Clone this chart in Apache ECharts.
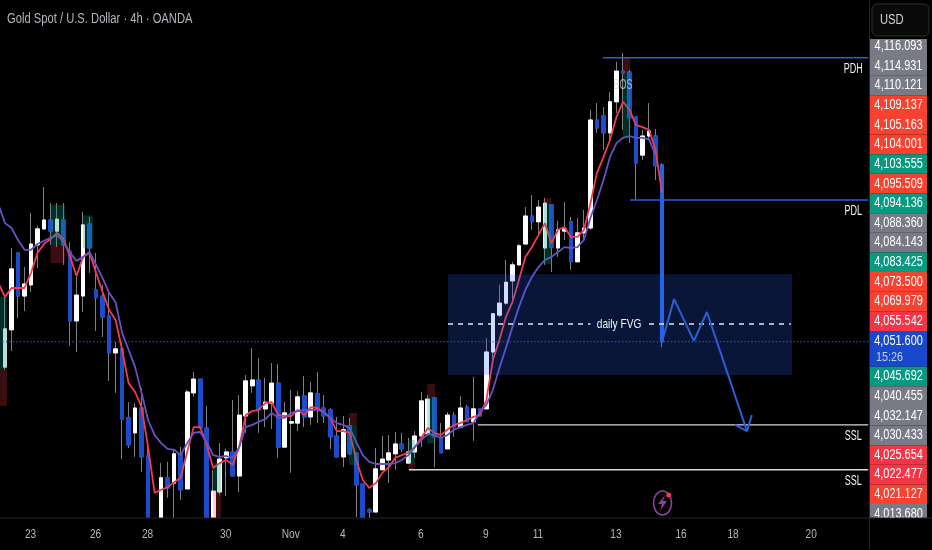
<!DOCTYPE html>
<html><head><meta charset="utf-8">
<style>html,body{margin:0;padding:0;background:#000}#c{width:932px;height:550px}</style>
<script src="https://cdn.jsdelivr.net/npm/echarts@6/dist/echarts.min.js"></script>
</head><body><div id="c"></div>
<script>
// [open, close, low, high] for each 4h bar
const candles = [
[4045.9,4054.5,4045.3,4061.7],[4054.3,4068,4049.5,4072.7],[4071.6,4061.9,4056.9,4071.6],[4061.9,4064.6,4058.5,4068.4],
[4064.4,4073.6,4062.8,4080.6],[4073.4,4077,4068.2,4077.7],[4077,4079,4076.8,4086.4],[4079,4076.5,4073.4,4082.8],
[4076.5,4079.2,4072.9,4082.8],[4079,4073.4,4068.9,4082.8],[4072,4056.3,4050.7,4074],[4056.3,4062.1,4049.3,4066.2],
[4061.9,4077.9,4058.3,4080.8],[4078.1,4072.7,4067.1,4079.7],[4063.3,4061.5,4054,4071.6],[4061.9,4057.2,4052.7,4064.4],
[4057.4,4049.1,4042.8,4063],[4049.1,4050,4040.1,4051.6],[4050,4034.2,4025.2,4051.3],[4034.5,4028.4,4027.7,4038],
[4031.1,4036.7,4025.7,4037.8],[4036.7,4025.7,4022.3,4041.2],[4025.9,4009.3,4008.1,4027.9],[4007,4010,4005,4011],
[4011.5,4021,4010.4,4024.3],[4021,4018.7,4016.5,4024.6],[4019.8,4026.4,4010.4,4027.5],[4026.4,4018.3,4016,4027.9],
[4018.5,4040.3,4018.5,4040.8],[4040.1,4043.2,4039.2,4044.8],[4043.2,4032.2,4032.2,4043.2],[4032.2,4010.4,4009.3,4037.2],
[4011.5,4018,4011,4022.8],[4017.8,4025.2,4017.1,4028.8],[4025.5,4026.8,4016.9,4027.5],[4026.8,4021.4,4021.4,4038.5],
[4021.4,4035.1,4017.8,4039.6],[4034.9,4042.8,4031.1,4044.1],[4041.7,4043,4040.1,4050.2],[4043,4036.3,4031.1,4047.9],
[4036.5,4038,4032.4,4043.5],[4037.8,4042.3,4032,4046.8],[4042.3,4027.9,4025.5,4046.6],[4027.9,4035.6,4027.9,4038],
[4033.3,4033.6,4022.1,4040.8],[4033.3,4039.2,4031.5,4040.5],[4039.4,4034.7,4032.4,4043.9],[4034.7,4040.1,4032.9,4042.6],
[4039.9,4036.7,4033.3,4044.8],[4036.7,4034.9,4033.3,4039.6],[4036.3,4030.2,4027.5,4036.7],[4030.4,4025.7,4025.7,4034.7],
[4025.7,4031.8,4023.4,4034.9],[4032.7,4026.4,4026.1,4034.5],[4026.6,4019.4,4012.2,4026.6],[4019.6,4010.4,4009.3,4019.6],
[4013.8,4013.3,4010.4,4014.2],[4013.3,4023,4013.3,4027.7],[4022.8,4025.2,4022.8,4030.4],[4025,4026.6,4019.8,4030.6],
[4026.4,4028.6,4022.8,4031.3],[4028.6,4027.5,4026.8,4031.1],[4024.3,4026.8,4024.1,4030],[4026.8,4030.4,4025.5,4031.5],
[4030.4,4038.3,4027.9,4040.3],[4030.9,4038.7,4030.4,4039.6],[4039,4030.2,4023.4,4039],[4030,4026.6,4026.6,4033.3],
[4027.5,4035.1,4027.5,4035.8],[4035.1,4032.4,4030.2,4035.8],[4032.4,4036.7,4032.4,4039.4],[4036.9,4033.6,4033.6,4037.4],
[4033.6,4036.5,4029.3,4043.7],[4036.5,4034.9,4034.9,4036.5],[4036.5,4049.3,4036.5,4052.4],[4049.3,4057.9,4047.5,4058.1],
[4057.6,4060.3,4057.2,4064.4],[4060.3,4065,4059.9,4070],[4065.3,4068.9,4060.3,4069.6],[4068.9,4073.2,4068.9,4073.6],
[4073.6,4079.9,4073.4,4081.9],[4079.9,4078.6,4076.8,4084.6],[4078.6,4081.9,4075.6,4083.5],[4072.7,4082.8,4068.9,4084],
[4082.4,4072.9,4067.3,4082.4],[4072.7,4076.8,4070.7,4078.8],[4076.5,4077,4074.5,4083],[4078.6,4069.6,4067.8,4079.7],
[4069.6,4076.1,4069.6,4079.5],[4076.1,4077.2,4074.5,4081.3],[4077.2,4101.5,4076.8,4103.8],[4101.5,4099.7,4098.6,4105.3],
[4102.4,4098.6,4094.8,4104.4],[4098.6,4105.6,4096.3,4107.8],[4105.6,4112.5,4103.1,4114.6],[4112.5,4112.1,4099.3,4116.6],
[4112.3,4102,4096.3,4112.8],[4102.2,4091.8,4083.5,4102.2],[4093.6,4097.9,4092.5,4099.3],[4097.9,4099,4097,4105.3],
[4097.9,4091.2,4088,4099.5],[4091.4,4051.6,4050.4,4091.8]
];
// moving averages; first value belongs to the bar just off the left edge
const fastMA = [4064.8,
4061.7,4063.7,4063.7,4063.7,4067.1,4071.6,4073.6,4074.7,4076.1,4074.7,4070.7,4066.4,4070.7,4071.6,4067.1,4062.8,4058.8,4056.5,4049.8,4042.3,
4040.3,4036.9,4027.9,4017.6,4018.3,4018.9,4020,4021,4026.8,4032.4,4032.4,4028.4,4023.2,4024.3,4025,4023.9,4027.9,4035.1,4036,4036.3,
4037.8,4038,4035.1,4034.9,4034.9,4036.3,4035.1,4036.9,4036.7,4035.8,4034.5,4031.5,4031.5,4031.1,4025,4020.5,4018.7,4019.8,4022.1,4023.4,
4025.5,4026.1,4026.6,4027.9,4030,4032.2,4031.1,4030.6,4031.8,4032.9,4033.3,4034,4034.7,4035.1,4038.5,4047.5,4052,4057.2,4060.5,4065.5,
4070.7,4072.9,4075.6,4078.3,4073.8,4076.8,4077.4,4075.2,4075.2,4076.8,4082.8,4089.6,4093.2,4097,4102.2,4105.6,4103.8,4100.4,4099.9,4099.3,4094.8,4085.1];
const slowMA = [4082.4,
4078.3,4077.2,4074.5,4072.3,4072.3,4073.6,4074.3,4075,4075.6,4074,4071.6,4069.8,4070.7,4071.8,4068.9,4065.9,4062.6,4060.5,4053.6,4049.8,
4045.9,4040.1,4034,4030.6,4028.8,4027.5,4027.3,4026.1,4028.8,4031.1,4031.3,4029,4026.1,4025.7,4025.9,4025.5,4027.9,4032.4,4032.9,4033.6,
4034.2,4035.6,4034.5,4034.5,4035.6,4036,4036.3,4036.3,4036.3,4035.8,4034.5,4033.3,4032.9,4032.2,4029,4026.1,4024.6,4024.1,4024.1,4024.1,
4024.3,4025,4026.1,4027.9,4029.5,4030.9,4030.6,4030,4030.6,4031.8,4032.4,4032.9,4033.3,4035.8,4037.4,4040.8,4045.7,4050.2,4054.9,4059.4,
4063.3,4066.2,4068.4,4070,4070.7,4071.8,4072.9,4072.7,4072.9,4074.5,4079.5,4083.5,4088,4093.2,4096.3,4097.5,4097.9,4097.5,4097.5,4097.2,4093.6];

const dateSlots = [5,15,23,35,45,53,65,75,83,95,105,113,125];
const dateLabels = ['23','26','28','30','Nov','4','6','9','11','13','16','18','20'];
const slotCount = 135;

const currentPrice = 4051.6;
const priceMin = 4011.95, priceMax = 4128.5;

// [fromBar, toBar, price]
const levelsBlue = [[92.9,133.7,4115.5],[97.1,133.7,4083.5]];
const levelsWhite = [[73.7,133.7,4032.9],[63.1,133.7,4022.8]];
// [fromBar, toBar, priceTop, priceBottom]
const fvgZone = [[69.1,122,4066.8,4044.1]];
const fvgMid = [[69.1,4055.6],[91,4055.6],null,[100,4055.6],[121.8,4055.6]];
const greenBlocks = [[0,1.3,4061.7,4045.3],[8,10.2,4082.4,4073.4],[13,14.5,4080,4072.7],[33,34.2,4024.3,4017.8],
 [53.9,55.1,4032.7,4023.9],[63,64,4029.5,4024.1],[65.9,67.1,4039.2,4028.8],[83.8,85,4082.8,4069.1],[96,97.1,4112.1,4097.4]];
const redBlocks = [[0,1.3,4045.3,4037.2],[8,10.2,4073.4,4069.3],[33,34.2,4017.8,4012],[53.9,55.1,4035.6,4032.7],
 [63,64,4024.1,4022.8],[65.9,67.1,4042.1,4039.2],[83.8,85,4083.9,4082.8],[96,97.1,4115.5,4112.1]];
const pathZig = [[102,4051.6],[103.85,4061.2],[106.9,4051.8],[108.9,4058.3],[115.06,4031.5]];
const pathHead = [[113.2,4032.9],[115.06,4031.5],[115.8,4035.1]];
// [bar, price, text]
const notes = [[131.4,4113,'PDH'],[131.4,4081,'PDL'],[131.4,4030.4,'SSL'],[131.4,4020.3,'SSL'],[95.4,4055.6,'daily FVG'],[96,4109.4,'BOS']];

const scaleLabels = ['4,116.093','4,114.931','4,110.121','4,109.137','4,105.163','4,104.001','4,103.555','4,095.509','4,094.136','4,088.360','4,084.143','4,083.425','4,073.500','4,069.979','4,055.542','4,051.600','4,045.692','4,040.455','4,032.147','4,030.433','4,025.654','4,022.477','4,021.127','4,013.680'];
const scaleColors = ['#787b86','#787b86','#787b86','#f8412f','#f8412f','#f8412f','#089981','#f8412f','#089981','#787b86','#787b86','#089981','#f8412f','#f8412f','#f23645','#1848cc','#089981','#787b86','#787b86','#787b86','#f23645','#f23645','#f8412f','#787b86'];
const countdown = '15:26';

const FONT = '"Liberation Sans",sans-serif';
const BLUE = '#1b4ccc', BIG = '#2563e6', WICK = '#7f7f7f', LINE = '#2a5fd8';
const SQUISH = 0.8;

const rows = [];
let r = 0;
scaleLabels.forEach((t,i)=>{ const h = i===15 ? 1.82 : 1; rows.push([r,r+h,t,scaleColors[i],i===15?countdown:'']); r+=h; });

const cats = Array.from({length:slotCount},(_,i)=>{const k=dateSlots.indexOf(i);return k<0?'':dateLabels[k];});
const body = c=>[c[0],c[1],Math.min(c[0],c[1]),Math.max(c[0],c[1])];
const lastIdx = candles.length-1;
const wickData = ['-'].concat(candles);
const bodyData = ['-'].concat(candles.map((c,i)=> i===lastIdx
  ? {value:body(c),itemStyle:{color0:BIG,borderColor0:BIG}} : body(c)));

function squished(text,x,y,fill,font,sx,align){
  return {type:'text',x,y,scaleX:sx,style:{text,x:0,y:0,align:align||'center',verticalAlign:'middle',fill,font}};
}
function rectSeries(name,data,color,z){
  return {type:'custom',name,xAxisIndex:1,yAxisIndex:0,z,clip:true,silent:true,data,encode:{x:[0,1],y:[2,3]},
    renderItem:(p,api)=>{
      const a=api.coord([api.value(0),api.value(2)]),b=api.coord([api.value(1),api.value(3)]);
      return {type:'rect',shape:{x:a[0],y:a[1],width:b[0]-a[0],height:b[1]-a[1]},style:{fill:color}};
    }};
}
function levelSeries(name,data,color,w,z){
  return {type:'custom',name,xAxisIndex:1,yAxisIndex:0,z,clip:true,silent:true,data,encode:{x:[0,1],y:2},
    renderItem:(p,api)=>{
      const a=api.coord([api.value(0),api.value(2)]),b=api.coord([api.value(1),api.value(2)]);
      return {type:'line',shape:{x1:a[0],y1:a[1],x2:b[0],y2:b[1]},style:{stroke:color,lineWidth:w}};
    }};
}
function pathSeries(name,data,color,w,type,z){
  return {type:'line',name,xAxisIndex:1,yAxisIndex:0,z,symbol:'none',silent:true,connectNulls:false,
    data:data.map(d=>d||[null,null]),lineStyle:{color,width:w,type}};
}

const option = {
  backgroundColor:'#000',animation:false,
  grid:[{left:-4.75,top:0,width:878.2,height:518,outerBoundsMode:'none'},{left:870,top:39,width:57,height:479,outerBoundsMode:'none'}],
  xAxis:[
    {type:'category',gridIndex:0,data:cats,axisTick:{show:false},splitLine:{show:false},axisLine:{show:false},axisLabel:{show:false}},
    {type:'value',gridIndex:0,min:-0.5,max:134.5,show:false},
    {type:'value',gridIndex:1,min:0,max:1,show:false}
  ],
  yAxis:[
    {type:'value',gridIndex:0,min:priceMin,max:priceMax,show:false,splitLine:{show:false}},
    {type:'value',gridIndex:1,inverse:true,min:0.13,max:24.53,show:false,splitLine:{show:false}}
  ],
  series:[
    {type:'candlestick',name:'wicks',xAxisIndex:0,yAxisIndex:0,z:2,barWidth:4.2,clip:true,silent:true,data:wickData,
     itemStyle:{color:'#fff',color0:BLUE,borderColor:WICK,borderColor0:WICK,borderWidth:1}},
    {type:'candlestick',name:'bodies',xAxisIndex:0,yAxisIndex:0,z:3,barWidth:4.2,clip:true,silent:true,data:bodyData,
     itemStyle:{color:'#fff',color0:BLUE,borderColor:'#fff',borderColor0:BLUE,borderWidth:1}},
    {type:'line',name:'fast',xAxisIndex:0,yAxisIndex:0,z:4,symbol:'none',data:fastMA,lineStyle:{color:'#f23b50',width:1.8}},
    {type:'line',name:'slow',xAxisIndex:0,yAxisIndex:0,z:4,symbol:'none',data:slowMA,lineStyle:{color:'#6b4fc6',width:1.8}},
    rectSeries('green',greenBlocks,'rgba(8,153,129,0.3)',5),
    rectSeries('red',redBlocks,'rgba(242,54,69,0.24)',5),
    rectSeries('fvg',fvgZone,'rgba(41,98,255,0.22)',5),
    pathSeries('price',[[-0.5,currentPrice],[133.7,currentPrice]],'#2a5fe0',1,[1.5,2],6),
    pathSeries('mid',fvgMid,'#e5e7ee',1.3,[5,5],6),
    levelSeries('blueLevels',levelsBlue,LINE,1.4,6),
    levelSeries('whiteLevels',levelsWhite,'#d6d8dc',1.4,6),
    pathSeries('zig',pathZig,LINE,2,'solid',7),
    pathSeries('head',pathHead,LINE,2,'solid',7),
    {type:'custom',name:'notes',xAxisIndex:1,yAxisIndex:0,z:8,silent:true,data:notes,
     renderItem:(p,api)=>{
       const a=api.coord([api.value(0),api.value(1)]);
       const t=notes[p.dataIndex][2];
       if(t==='daily FVG') return squished(t,a[0],a[1],'#f0f1f4','13px '+FONT,0.78);
       return squished(t,a[0],a[1],t==='BOS'?'rgba(209,212,220,.75)':'#f2f2f2','14.5px '+FONT,0.62);
     }},
    {type:'custom',name:'dates',xAxisIndex:0,yAxisIndex:0,z:30,zlevel:1,silent:true,clip:false,
     data:dateSlots.map(s=>[s,priceMin]),
     renderItem:(p,api)=>{
       const a=api.coord([api.value(0),priceMin]);
       const t=dateLabels[p.dataIndex];
       return squished(t,a[0]-0.5,a[1]+16,'#b2b5be','13px '+FONT,0.78);
     }},
    {type:'custom',name:'scale',xAxisIndex:2,yAxisIndex:1,z:9,clip:true,silent:true,data:rows.map(x=>[x[0],x[1]]),
     encode:{y:[0,1]},
     renderItem:(p,api)=>{
       const row=rows[p.dataIndex];
       const a=api.coord([0,row[0]]),b=api.coord([1,row[1]]);
       const cx=(a[0]+b[0])/2, topCy=api.coord([0,row[0]+0.5])[1];
       const kids=[{type:'rect',shape:{x:a[0],y:a[1],width:b[0]-a[0],height:b[1]-a[1]},style:{fill:row[3]}},
         squished(row[2],cx,topCy,'#fff','14px '+FONT,0.78)];
       if(row[4]) kids.push(squished(row[4],a[0]+6,topCy+16.5,'#c4d1f5','13.5px '+FONT,SQUISH,'left'));
       return {type:'group',children:kids};
     }}
  ],
  graphic:[
    {type:'rect',shape:{x:0,y:518,width:869,height:32},style:{fill:'#000'},z:19},
    {type:'line',shape:{x1:0,y1:518,x2:932,y2:518},style:{stroke:'#262626',lineWidth:1},z:20},
    {type:'line',shape:{x1:869.5,y1:0,x2:869.5,y2:550},style:{stroke:'#262626',lineWidth:1},z:20},
    {type:'rect',shape:{x:872,y:4,width:57,height:32,r:5},style:{fill:'#0a0a0a',stroke:'#2e2e2e',lineWidth:1},z:20},
    {type:'text',x:880,y:20,scaleX:SQUISH,style:{text:'USD',x:0,y:0,verticalAlign:'middle',fill:'#d1d4dc',font:'14px '+FONT},z:21},
    {type:'text',x:7,y:19,scaleX:SQUISH,style:{text:'Gold Spot / U.S. Dollar · 4h · OANDA',x:0,y:0,verticalAlign:'middle',fill:'#b2b5be',font:'14px '+FONT},z:21},
    {type:'ellipse',shape:{cx:662.5,cy:503,rx:9,ry:12},style:{fill:'none',stroke:'#8b3f9b',lineWidth:1.6},z:20},
    {type:'polygon',shape:{points:[[665,495],[658,504],[662,504],[660,511],[667,501],[663,501]]},style:{fill:'#8b3f9b'},z:20},
    {type:'circle',shape:{cx:668.7,cy:495,r:2.5},style:{fill:'#f23645'},z:21}
  ]
};
echarts.init(document.getElementById('c'),null,{renderer:'canvas'}).setOption(option);
</script></body></html>
